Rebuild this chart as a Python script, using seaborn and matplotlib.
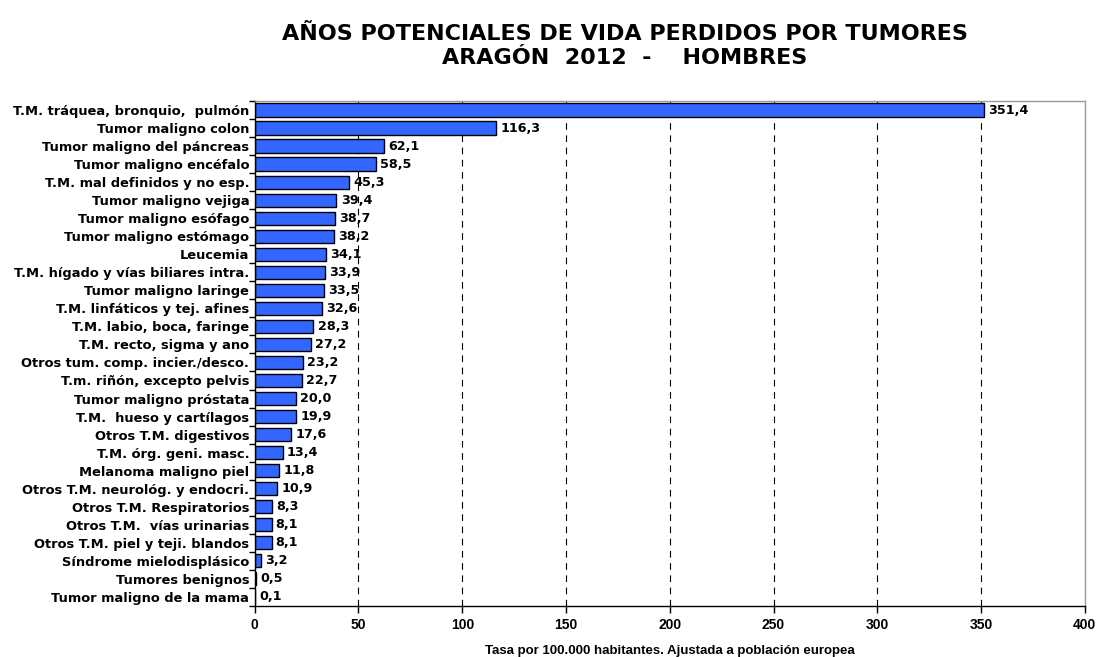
import matplotlib
matplotlib.use("Agg")
import matplotlib.pyplot as plt
import seaborn as sns
import pandas as pd
import numpy as np

causas = [
    "T.M. tráquea, bronquio,  pulmón", "Tumor maligno colon", "Tumor maligno del páncreas",
    "Tumor maligno encéfalo", "T.M. mal definidos y no esp.", "Tumor maligno vejiga",
    "Tumor maligno esófago", "Tumor maligno estómago", "Leucemia",
    "T.M. hígado y vías biliares intra.", "Tumor maligno laringe", "T.M. linfáticos y tej. afines",
    "T.M. labio, boca, faringe", "T.M. recto, sigma y ano", "Otros tum. comp. incier./desco.",
    "T.m. riñón, excepto pelvis", "Tumor maligno próstata", "T.M.  hueso y cartílagos",
    "Otros T.M. digestivos", "T.M. órg. geni. masc.", "Melanoma maligno piel",
    "Otros T.M. neurológ. y endocri.", "Otros T.M. Respiratorios", "Otros T.M.  vías urinarias",
    "Otros T.M. piel y teji. blandos", "Síndrome mielodisplásico", "Tumores benignos",
    "Tumor maligno de la mama",
]
tasas = [351.4, 116.3, 62.1, 58.5, 45.3, 39.4, 38.7, 38.2, 34.1, 33.9, 33.5, 32.6,
         28.3, 27.2, 23.2, 22.7, 20.0, 19.9, 17.6, 13.4, 11.8, 10.9, 8.3, 8.1, 8.1,
         3.2, 0.5, 0.1]
xticks = [0, 50, 100, 150, 200, 250, 300, 350, 400]

df = pd.DataFrame({"causa": causas, "tasa": tasas})

sns.set_style("white")
plt.rcParams["font.family"] = ["DejaVu Sans"]
plt.rcParams["text.color"] = "black"
plt.rcParams["axes.labelcolor"] = "black"
plt.rcParams["xtick.color"] = "black"
plt.rcParams["ytick.color"] = "black"

fig = plt.figure(figsize=(10.98, 6.57), dpi=100)
ax = fig.add_axes([0.232, 0.078, 0.756, 0.768])

sns.barplot(data=df, x="tasa", y="causa", orient="h", color="#3366FF",
            saturation=1, edgecolor="black", linewidth=1, width=0.75, ax=ax)

for i, v in enumerate(tasas):
    ax.text(v + 2, i, f"{v:.1f}".replace(".", ","), va="center", ha="left",
            fontsize=9.2, fontweight="bold", color="black")

ax.set_xlim(0, 400)
ax.set_ylim(len(causas) - 0.5, -0.5)
ax.set_xticks(xticks)
ax.set_xticklabels([str(t) for t in xticks], fontsize=10, fontweight="bold",
                   family="Liberation Sans")
ax.tick_params(axis="x", pad=4, length=5, width=1, direction="out", bottom=True)
ax.tick_params(axis="y", which="major", length=0, pad=4)
ax.set_yticks(np.arange(len(causas) + 1) - 0.5, minor=True)
ax.tick_params(axis="y", which="minor", length=4, width=1, direction="out", left=True)
for lab in ax.get_yticklabels():
    lab.set_fontweight("bold")
    lab.set_fontsize(9.4)

for t in xticks[1:-1]:
    ax.axvline(t, color="black", linestyle=(0, (6, 5)), linewidth=0.8, zorder=0)

for s in ["left", "bottom"]:
    ax.spines[s].set_color("black")
    ax.spines[s].set_linewidth(1)
for s in ["top", "right"]:
    ax.spines[s].set_color("#999999")
    ax.spines[s].set_linewidth(1)

ax.set_ylabel("")
ax.set_xlabel("Tasa por 100.000 habitantes. Ajustada a población europea",
              fontsize=9.5, fontweight="bold", labelpad=9, family="Liberation Sans",
              color="black")

fig.text(0.569, 0.930, "AÑOS POTENCIALES DE VIDA PERDIDOS POR TUMORES\nARAGÓN  2012  -    HOMBRES",
         ha="center", va="center", fontsize=16, fontweight="bold", linespacing=1.25)

fig.savefig("out.png", dpi=100)
